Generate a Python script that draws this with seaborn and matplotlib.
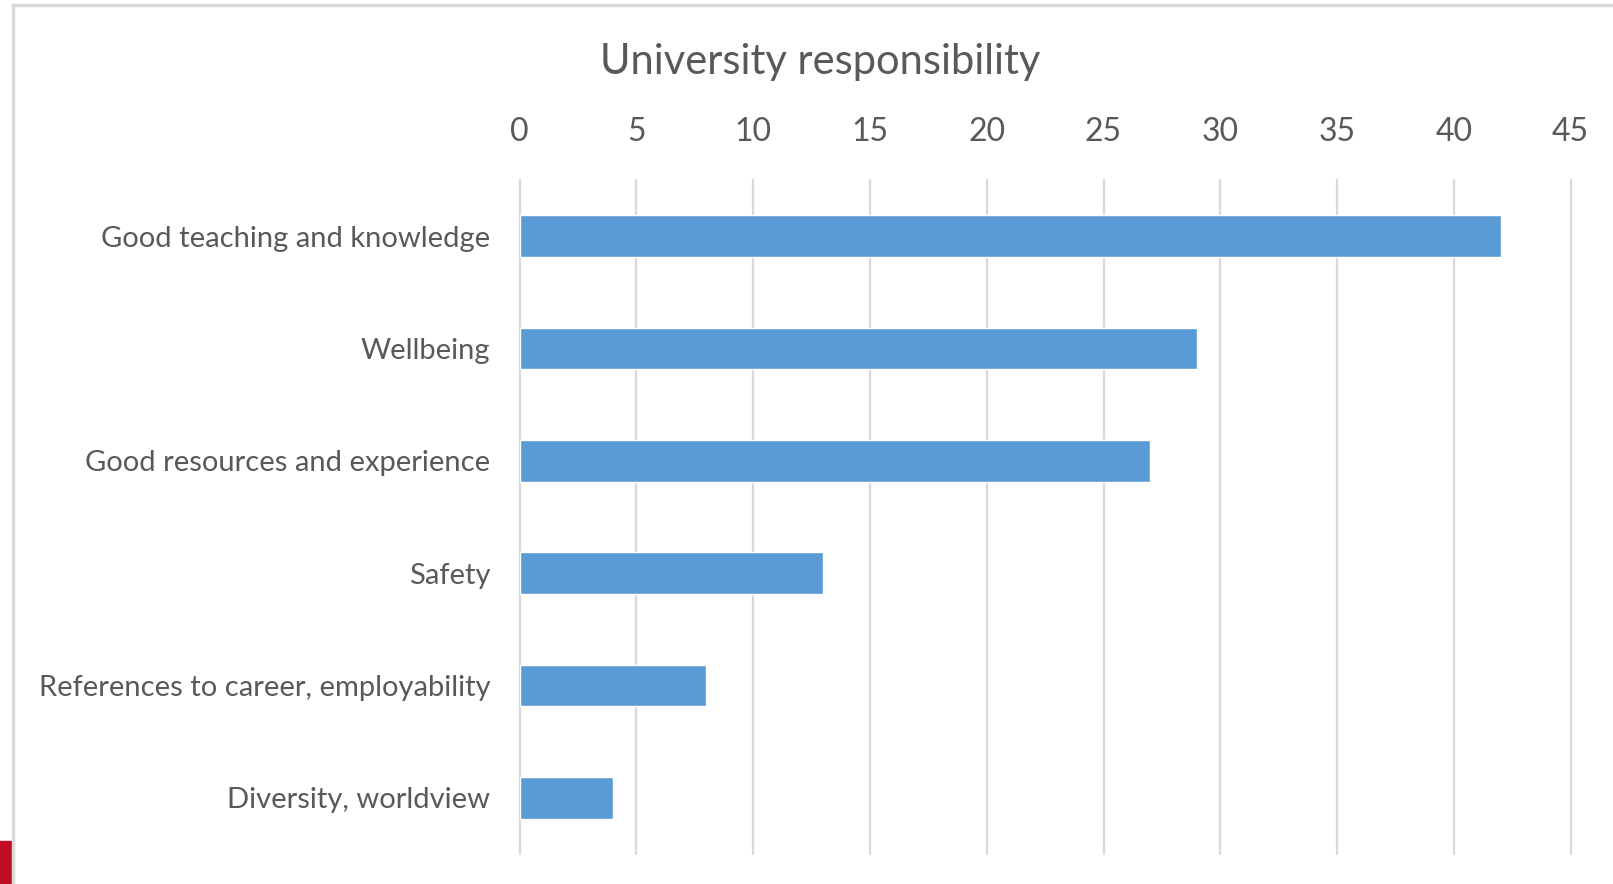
import matplotlib.pyplot as plt
import pandas as pd
import seaborn as sns
from matplotlib.lines import Line2D
from matplotlib.patches import Rectangle

# chart data
categories = ['Good teaching and knowledge', 'Wellbeing', 'Good resources and experience',
              'Safety', 'References to career, employability', 'Diversity, worldview']
counts = [42, 29, 27, 13, 8, 4]
x_ticks = [0, 5, 10, 15, 20, 25, 30, 35, 40, 45]

df = pd.DataFrame({'category': categories, 'count': counts})

sns.set_theme(style='white')
plt.rcParams['font.family'] = ['Lato', 'DejaVu Sans']

W, H = 1613, 884
fig = plt.figure(figsize=(W / 100, H / 100), dpi=100)
ax = fig.add_axes([519.5 / W, 1 - 854 / H, (1570.7 - 519.5) / W, (854 - 180) / H])

sns.barplot(data=df, x='count', y='category', color='#5B9BD5', saturation=1,
            width=0.37, ax=ax)

ax.set_xlim(0, 45)
ax.set_xticks(x_ticks)
ax.xaxis.tick_top()
ax.grid(axis='x', color='#d9d9d9', linewidth=1.6)
for gl in ax.get_xgridlines():
    gl.set_clip_on(False)
ax.set_axisbelow(True)
for s in ax.spines.values():
    s.set_visible(False)
ax.tick_params(axis='x', length=0, pad=24, labelsize=23, labelcolor='#595959')
ax.tick_params(axis='y', length=0, pad=21, labelsize=21, labelcolor='#595959')
ax.set_xlabel('')
ax.set_ylabel('')

# title
fig.text(820 / W, 1 - 62 / H, 'University responsibility', ha='center', va='center',
         fontsize=30, color='#595959')

# chart frame and red corner block
fig.add_artist(Line2D([13 / W, 13 / W], [0, 1 - 5 / H], color='#d9d9d9', linewidth=2.5))
fig.add_artist(Line2D([13 / W, 1], [1 - 5 / H, 1 - 5 / H], color='#d9d9d9', linewidth=2.5))
fig.add_artist(Rectangle((0, 0), 12 / W, 43 / H, color='#c00d22', transform=fig.transFigure))

plt.savefig('out.png', dpi=100)
